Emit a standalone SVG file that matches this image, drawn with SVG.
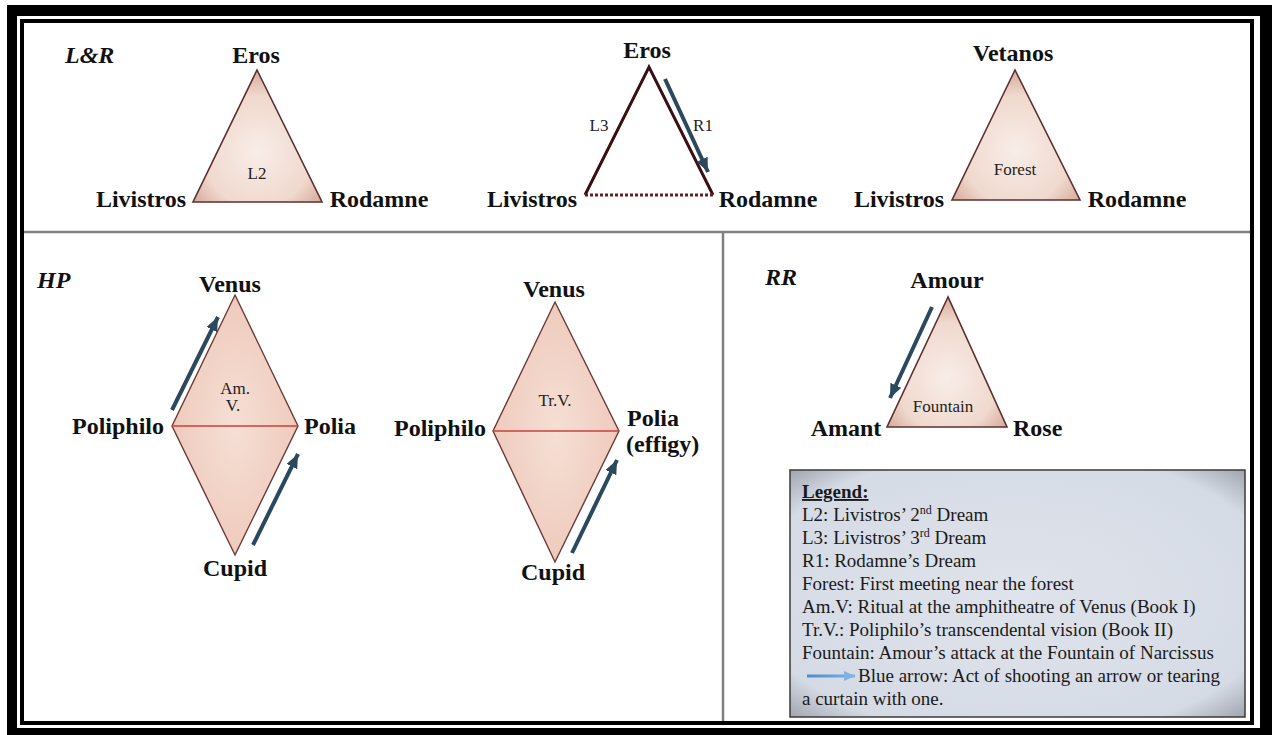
<svg xmlns="http://www.w3.org/2000/svg" width="1272" height="735" viewBox="0 0 1272 735" font-family="'Liberation Serif', 'Times New Roman', serif">
  <defs>
    <radialGradient id="triFill" cx="50%" cy="62%" r="60%">
      <stop offset="0%" stop-color="#f8ede8"/>
      <stop offset="70%" stop-color="#f0d9ce"/>
      <stop offset="100%" stop-color="#d9b0a0"/>
    </radialGradient>
    <radialGradient id="diaFill" cx="50%" cy="50%" r="60%">
      <stop offset="0%" stop-color="#f6dfd5"/>
      <stop offset="75%" stop-color="#efcdbf"/>
      <stop offset="100%" stop-color="#e0b5a4"/>
    </radialGradient>
    <radialGradient id="legendFill" cx="50%" cy="50%" r="75%">
      <stop offset="0%" stop-color="#dfe3eb"/>
      <stop offset="78%" stop-color="#d5dbe5"/>
      <stop offset="100%" stop-color="#8d929a"/>
    </radialGradient>
    <linearGradient id="legendArrow" gradientUnits="userSpaceOnUse" x1="807" y1="0" x2="855" y2="0">
      <stop offset="0%" stop-color="#4f8cc9"/>
      <stop offset="100%" stop-color="#7fb2e0"/>
    </linearGradient>
    <marker id="head" markerUnits="userSpaceOnUse" markerWidth="14" markerHeight="12" viewBox="0 0 14 12" refX="14" refY="6" orient="auto">
      <path d="M0,0 L14,6 L0,12 z" fill="#2b495e"/>
    </marker>
    <marker id="headLight" markerUnits="userSpaceOnUse" markerWidth="11" markerHeight="10" viewBox="0 0 11 10" refX="11" refY="5" orient="auto">
      <path d="M0,0 L11,5 L0,10 z" fill="#7fb2e0"/>
    </marker>
    <style>
      .lbl { font-weight: bold; font-size: 24px; fill: #111; }
      .ttl { font-weight: bold; font-style: italic; font-size: 24px; fill: #111; }
      .sm { font-size: 17px; fill: #222; }
      .leg { font-size: 19px; fill: #1a1a1a; }
      .tri { fill: url(#triFill); stroke: #5e2f2f; stroke-width: 1.6; stroke-linejoin: miter; }
      .dia { fill: url(#diaFill); stroke: #6a3a36; stroke-width: 1.4; }
      .mid { stroke: #c9413c; stroke-width: 1.6; }
      .shoot { stroke: #2b495e; stroke-width: 4; fill: none; marker-end: url(#head); }
      .div { stroke: #808080; stroke-width: 2.5; }
    </style>
  </defs>

  <!-- frame -->
  <rect x="0" y="0" width="1272" height="735" fill="#ffffff"/>
  <rect x="7" y="5" width="1265" height="730" fill="#000000"/>
  <rect x="17" y="16" width="1243" height="712" fill="#ffffff"/>
  <rect x="22" y="21" width="1230" height="702" fill="#ffffff" stroke="#000000" stroke-width="4"/>

  <!-- panel dividers -->
  <g id="dividers">
    <line class="div" x1="24" y1="232" x2="1250" y2="232"/>
    <line class="div" x1="723" y1="232" x2="723" y2="721"/>
  </g>

  <!-- L&R panel -->
  <g id="lr-title"><text class="ttl" x="65" y="63">L&amp;R</text></g>

  <g id="lr-dream2">
    <polygon class="tri" points="257,70 193,202 322,202"/>
    <text class="sm" x="257" y="179" text-anchor="middle">L2</text>
    <text class="lbl" x="256" y="63" text-anchor="middle">Eros</text>
    <text class="lbl" x="141" y="207" text-anchor="middle">Livistros</text>
    <text class="lbl" x="379" y="207" text-anchor="middle">Rodamne</text>
  </g>

  <g id="lr-dream3">
    <polyline points="585,195 649,67 713,195" fill="none" stroke="#3b0f12" stroke-width="3" stroke-linejoin="miter"/>
    <line x1="585" y1="195" x2="713" y2="195" stroke="#6a1d22" stroke-width="3" stroke-dasharray="3 2"/>
    <text class="sm" x="599" y="131" text-anchor="middle">L3</text>
    <text class="sm" x="703" y="131" text-anchor="middle">R1</text>
    <text class="lbl" x="647" y="58" text-anchor="middle">Eros</text>
    <text class="lbl" x="532" y="207" text-anchor="middle">Livistros</text>
    <text class="lbl" x="768" y="207" text-anchor="middle">Rodamne</text>
  </g>

  <g id="lr-forest">
    <polygon class="tri" points="1015,70 952,200 1080,200"/>
    <text class="sm" x="1015" y="175" text-anchor="middle" font-size="15">Forest</text>
    <text class="lbl" x="1013" y="61" text-anchor="middle">Vetanos</text>
    <text class="lbl" x="899" y="207" text-anchor="middle">Livistros</text>
    <text class="lbl" x="1137" y="207" text-anchor="middle">Rodamne</text>
  </g>

  <!-- HP panel -->
  <g id="hp-title"><text class="ttl" x="37" y="288">HP</text></g>

  <g id="hp-amphitheatre">
    <polygon class="dia" points="235,295 298,426 235,555 172,426"/>
    <line class="mid" x1="172" y1="426" x2="298" y2="426"/>
    <text class="sm" x="235" y="394" text-anchor="middle" font-size="15">Am.</text>
    <text class="sm" x="233" y="411" text-anchor="middle" font-size="15">V.</text>
    <text class="lbl" x="230" y="292" text-anchor="middle">Venus</text>
    <text class="lbl" x="118" y="434" text-anchor="middle">Poliphilo</text>
    <text class="lbl" x="304" y="434">Polia</text>
    <text class="lbl" x="235" y="576" text-anchor="middle">Cupid</text>
  </g>

  <g id="hp-vision">
    <polygon class="dia" points="555,302 619,431 555,562 493,431"/>
    <line class="mid" x1="493" y1="431" x2="619" y2="431"/>
    <text class="sm" x="555" y="406" text-anchor="middle">Tr.V.</text>
    <text class="lbl" x="554" y="297" text-anchor="middle">Venus</text>
    <text class="lbl" x="440" y="436" text-anchor="middle">Poliphilo</text>
    <text class="lbl" x="627" y="426">Polia</text>
    <text class="lbl" x="626" y="452">(effigy)</text>
    <text class="lbl" x="553" y="580" text-anchor="middle">Cupid</text>
  </g>

  <!-- RR panel -->
  <g id="rr-title"><text class="ttl" x="765" y="285">RR</text></g>

  <g id="rr-fountain">
    <polygon class="tri" points="948,297 887,427 1007,427"/>
    <text class="sm" x="943" y="412" text-anchor="middle" font-size="18">Fountain</text>
    <text class="lbl" x="947" y="288" text-anchor="middle">Amour</text>
    <text class="lbl" x="846" y="436" text-anchor="middle">Amant</text>
    <text class="lbl" x="1013" y="436">Rose</text>
  </g>

  <!-- arrows (shooting acts) -->
  <g id="connectors">
    <line class="shoot" x1="665" y1="79" x2="708" y2="172"/>
    <line class="shoot" x1="172" y1="410" x2="218" y2="317"/>
    <line class="shoot" x1="253" y1="545" x2="298" y2="454"/>
    <line class="shoot" x1="572" y1="553" x2="617" y2="460"/>
    <line class="shoot" x1="932" y1="307" x2="890" y2="398"/>
  </g>

  <!-- legend -->
  <g id="legend">
    <rect x="790" y="470" width="455" height="247" fill="url(#legendFill)" stroke="#3a3a3a" stroke-width="1.5"/>
    <text class="leg" x="802" y="498" font-weight="bold" text-decoration="underline">Legend:</text>
    <text class="leg" x="802" y="521">L2: Livistros’ 2<tspan font-size="12" dy="-7">nd</tspan><tspan dy="7"> Dream</tspan></text>
    <text class="leg" x="802" y="544">L3: Livistros’ 3<tspan font-size="12" dy="-7">rd</tspan><tspan dy="7"> Dream</tspan></text>
    <text class="leg" x="802" y="567">R1: Rodamne’s Dream</text>
    <text class="leg" x="802" y="590">Forest: First meeting near the forest</text>
    <text class="leg" x="802" y="613">Am.V: Ritual at the amphitheatre of Venus (Book I)</text>
    <text class="leg" x="802" y="636">Tr.V.: Poliphilo’s transcendental vision (Book II)</text>
    <text class="leg" x="802" y="659">Fountain: Amour’s attack at the Fountain of Narcissus</text>
    <line x1="807" y1="676" x2="855" y2="676" stroke="url(#legendArrow)" stroke-width="3" marker-end="url(#headLight)"/>
    <text class="leg" x="858" y="682">Blue arrow: Act of shooting an arrow or tearing</text>
    <text class="leg" x="802" y="705">a curtain with one.</text>
  </g>
</svg>
